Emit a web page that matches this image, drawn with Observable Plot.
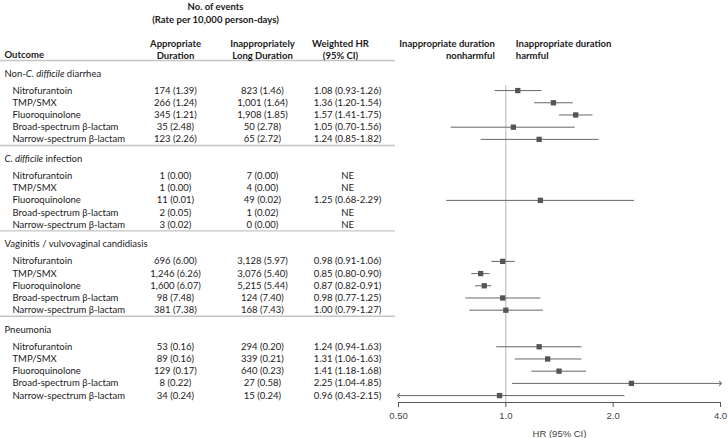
<!DOCTYPE html>
<html><head><meta charset="utf-8">
<script src="https://cdn.jsdelivr.net/npm/d3@7"></script>
<script src="https://cdn.jsdelivr.net/npm/@observablehq/plot@0.6"></script>
<style>
body{margin:0;background:#fff}
#chart{position:relative;width:728px;height:438px}
#chart svg{position:absolute;left:0;top:0}
</style></head><body><div id="chart"></div>
<script>
// ---------- data ----------
const outcomes = ["Non-C. difficile diarrhea", "C. difficile infection", "Vaginitis / vulvovaginal candidiasis", "Pneumonia"];
const drugs = ["Nitrofurantoin", "TMP/SMX", "Fluoroquinolone", "Broad-spectrum β-lactam", "Narrow-spectrum β-lactam"];
const apprEvents = [[174, 266, 345, 35, 123], [1, 1, 11, 2, 3], [696, 1246, 1600, 98, 381], [53, 89, 129, 8, 34]];
const apprRates  = [[1.39, 1.24, 1.21, 2.48, 2.26], [0.00, 0.00, 0.01, 0.05, 0.02], [6.00, 6.26, 6.07, 7.48, 7.38], [0.16, 0.16, 0.17, 0.22, 0.24]];
const inapEvents = [[823, 1001, 1908, 50, 65], [7, 4, 49, 1, 0], [3128, 3076, 5215, 124, 168], [294, 339, 640, 27, 15]];
const inapRates  = [[1.46, 1.64, 1.85, 2.78, 2.72], [0.00, 0.00, 0.02, 0.02, 0.00], [5.97, 5.40, 5.44, 7.40, 7.43], [0.20, 0.21, 0.23, 0.58, 0.24]];
const hrEst  = [[1.08, 1.36, 1.57, 1.05, 1.24], [null, null, 1.25, null, null], [0.98, 0.85, 0.87, 0.98, 1.00], [1.24, 1.31, 1.41, 2.25, 0.96]];
const hrLow  = [[0.93, 1.20, 1.41, 0.70, 0.85], [null, null, 0.68, null, null], [0.91, 0.80, 0.82, 0.77, 0.79], [0.94, 1.06, 1.18, 1.04, 0.43]];
const hrHigh = [[1.26, 1.54, 1.75, 1.56, 1.82], [null, null, 2.29, null, null], [1.06, 0.90, 0.91, 1.25, 1.27], [1.63, 1.63, 1.68, 4.85, 2.15]];
const notEstimable = "NE";
const xTicks = [0.5, 1, 2, 4];
const xTickLabels = ["0.50", "1.0", "2.0", "4.0"];
const xDomain = [0.5, 4];
const refValue = 1;
const columnHeaders = ["Appropriate\nDuration", "Inappropriately\nLong Duration", "Weighted HR\n(95% CI)"];
const outcomeHeader = "Outcome";
const eventsHeader = "No. of events\n(Rate per 10,000 person-days)";
const directionLabels = ["Inappropriate duration\nnonharmful", "Inappropriate duration\nharmful"];
const axisLabel = "HR (95% CI)";

// ---------- layout ----------
const W = 728, H = 438, MB = 36;
const PITCH = 12.2, TOP = 73;
const groupStride = 7, rowOffset = 1.4, sepOffset = 5.9;
const yDomain = [-TOP / PITCH, (H - MB - TOP) / PITCH];
const yScale = {type: "linear", domain: yDomain, range: [0, H - MB], axis: null};
const tableFont = "Lato, 'Open Sans', sans-serif";
const axisFont = "'Liberation Sans', Arial, sans-serif";
const fs = 9.5;
const lh = 12.2 / fs;
const colHeaderDx = [175, 262, 340];

const fmtN = d3.format(",");
const groupRows = outcomes.map((name, g) => ({name, slot: g * groupStride}));
const rows = [];
outcomes.forEach((o, g) => drugs.forEach((drug, r) => {
  const hr = hrEst[g][r];
  rows.push({
    drug, slot: g * groupStride + rowOffset + r,
    appr: `${fmtN(apprEvents[g][r])} (${apprRates[g][r].toFixed(2)})`,
    inap: `${fmtN(inapEvents[g][r])} (${inapRates[g][r].toFixed(2)})`,
    hrText: hr == null ? notEstimable : `${hr.toFixed(2)} (${hrLow[g][r].toFixed(2)}-${hrHigh[g][r].toFixed(2)})`,
    hr, lo: hrLow[g][r], hi: hrHigh[g][r]
  });
}));
const est = rows.filter(d => d.hr != null);
const sepSlots = [-1.07, ...outcomes.map((o, g) => g * groupStride + sepOffset).slice(0, outcomes.length - 1)];

const txt = "#1a1a1a";

// ---------- table ----------
const table = Plot.plot({
  width: W, height: H, marginLeft: 0, marginRight: W - 395, marginTop: 0, marginBottom: MB,
  y: yScale,
  style: {fontFamily: tableFont, fontSize: fs + "px", color: txt, background: "transparent"},
  marks: [
    Plot.ruleY(sepSlots, {y: d => d, stroke: "#c4c4c4", strokeWidth: 1.4}),
    Plot.text([eventsHeader], {y: () => -5.0, text: d => d, frameAnchor: "left", dx: 215, textAnchor: "middle", fontWeight: "bold", lineHeight: lh, fill: txt}),
    Plot.text([outcomeHeader], {y: () => -1.48, text: d => d, frameAnchor: "left", dx: 4, textAnchor: "start", fontWeight: "bold", fill: txt}),
    ...columnHeaders.map((h, i) => Plot.text([h], {y: () => -1.97, text: d => d, frameAnchor: "left", dx: colHeaderDx[i], textAnchor: "middle", fontWeight: "bold", lineHeight: lh, fill: txt})),
    Plot.text(groupRows, {y: "slot", text: "name", frameAnchor: "left", dx: 4, textAnchor: "start", fill: txt}),
    Plot.text(rows, {y: "slot", text: "drug", frameAnchor: "left", dx: 12, textAnchor: "start", fill: txt}),
    Plot.text(rows, {y: "slot", text: "appr", frameAnchor: "left", dx: 175, textAnchor: "middle", fill: txt}),
    Plot.text(rows, {y: "slot", text: "inap", frameAnchor: "left", dx: 262, textAnchor: "middle", fill: txt}),
    Plot.text(rows, {y: "slot", text: "hrText", frameAnchor: "left", dx: 347, textAnchor: "middle", fill: txt})
  ]
});
// italicise "C. difficile"
table.querySelectorAll("text").forEach(t => {
  if (t.querySelector("tspan")) return;
  const s = t.textContent, key = "C. difficile", i = s.indexOf(key);
  if (i < 0) return;
  t.textContent = "";
  const ns = "http://www.w3.org/2000/svg";
  [[s.slice(0, i), false], [key, true], [s.slice(i + key.length), false]].forEach(([part, it]) => {
    if (!part) return;
    const sp = document.createElementNS(ns, "tspan");
    sp.textContent = part;
    if (it) sp.setAttribute("font-style", "italic");
    t.appendChild(sp);
  });
});

// ---------- forest ----------
const forest = Plot.plot({
  width: W, height: H, marginLeft: 398, marginRight: 8, marginTop: 0, marginBottom: MB,
  x: {type: "log", domain: xDomain, clamp: true},
  y: yScale,
  style: {fontFamily: axisFont, fontSize: "9.5px", color: "#444", background: "transparent"},
  marks: [
    Plot.ruleX([refValue], {y1: () => 0.98, y2: () => yDomain[1], stroke: "#b4b4b4"}),
    Plot.frame({anchor: "bottom", stroke: "#555"}),
    Plot.axisX({ticks: xTicks, tickFormat: d => xTickLabels[xTicks.indexOf(d)], tickSize: 5, tickPadding: 5,
      stroke: "#555", fill: "#444", label: axisLabel, labelAnchor: "center", labelArrow: "none", labelOffset: 34}),
    Plot.link(est, {filter: d => d.lo >= xDomain[0], x1: "hr", x2: "lo", y1: "slot", y2: "slot", stroke: "#666"}),
    Plot.link(est, {filter: d => d.lo < xDomain[0], x1: "hr", x2: "lo", y1: "slot", y2: "slot", stroke: "#666", markerEnd: "arrow"}),
    Plot.link(est, {filter: d => d.hi <= xDomain[1], x1: "hr", x2: "hi", y1: "slot", y2: "slot", stroke: "#666"}),
    Plot.link(est, {filter: d => d.hi > xDomain[1], x1: "hr", x2: "hi", y1: "slot", y2: "slot", stroke: "#666", markerEnd: "arrow"}),
    Plot.dot(est, {x: "hr", y: "slot", symbol: "square", r: 3, fill: "#555", stroke: "none"}),
    Plot.text([directionLabels[0]], {x: () => refValue, y: () => -1.97, text: d => d, textAnchor: "end", dx: -11, fontFamily: tableFont, fontSize: fs, fontWeight: "bold", lineHeight: lh, fill: txt}),
    Plot.text([directionLabels[1]], {x: () => refValue, y: () => -1.97, text: d => d, textAnchor: "start", dx: 10, fontFamily: tableFont, fontSize: fs, fontWeight: "bold", lineHeight: lh, fill: txt})
  ]
});

const host = document.getElementById("chart");
host.appendChild(table);
host.appendChild(forest);
</script>
</body></html>
